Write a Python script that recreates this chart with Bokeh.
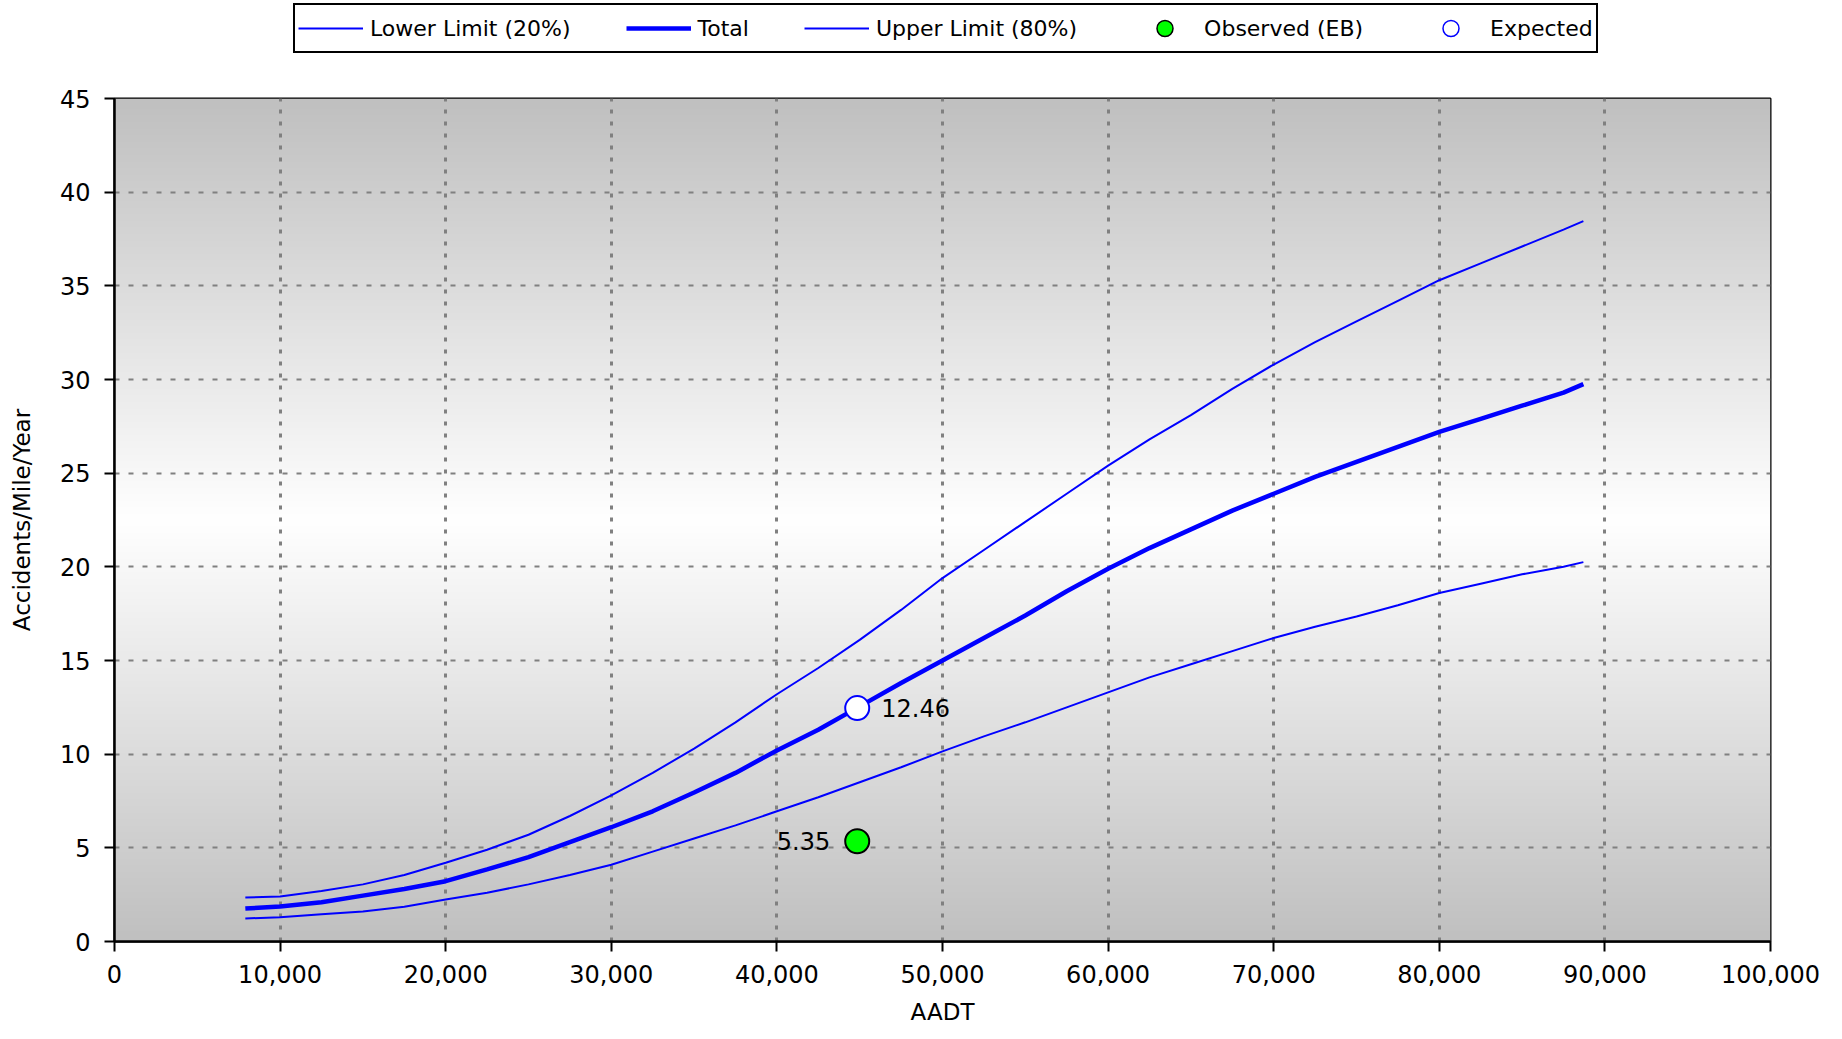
import numpy as np
from bokeh.plotting import figure
from bokeh.layouts import column
from bokeh.models import Range1d, NumeralTickFormatter, FixedTicker, Legend, LegendItem
from bokeh.core.properties import value
from bokeh.embed import file_html
from bokeh.resources import INLINE

# ---------------- data ----------------
aadt = [7900, 10000, 12500, 15000, 17500, 20000, 22500, 25000, 27500, 30000,
        32500, 35000, 37500, 40000, 42500, 45000, 47500, 50000, 52500, 55000,
        57500, 60000, 62500, 65000, 67500, 70000, 72500, 75000, 77500, 80000,
        82500, 85000, 87500, 88700]
lower = [1.23, 1.30, 1.45, 1.60, 1.85, 2.24, 2.60, 3.05, 3.55, 4.10,
         4.80, 5.50, 6.20, 6.95, 7.70, 8.50, 9.30, 10.15, 10.95, 11.70,
         12.50, 13.30, 14.10, 14.80, 15.50, 16.20, 16.80, 17.35, 17.95, 18.60,
         19.10, 19.60, 20.00, 20.25]
total = [1.76, 1.87, 2.10, 2.45, 2.80, 3.22, 3.85, 4.50, 5.30, 6.10,
         6.95, 7.95, 9.00, 10.20, 11.30, 12.55, 13.80, 15.00, 16.20, 17.40,
         18.70, 19.90, 21.00, 22.00, 23.00, 23.90, 24.80, 25.60, 26.40, 27.20,
         27.90, 28.60, 29.30, 29.75]
upper = [2.35, 2.40, 2.70, 3.05, 3.55, 4.20, 4.90, 5.70, 6.70, 7.80,
         9.00, 10.30, 11.70, 13.20, 14.60, 16.10, 17.70, 19.40, 20.90, 22.40,
         23.90, 25.40, 26.80, 28.10, 29.50, 30.80, 32.00, 33.10, 34.20, 35.30,
         36.20, 37.10, 38.00, 38.45]
point_aadt = [44850]
observed = [5.35]
expected = [12.46]
x_ticks = list(range(0, 100001, 10000))
y_ticks = list(range(0, 46, 5))
series_names = ["Lower Limit (20%)", "Total", "Upper Limit (80%)", "Observed (EB)", "Expected"]

FONT = "DejaVu Sans"
BLUE = "#0000ff"
GREEN = "#00ff00"
W = 1834
H = 1031
LEG_H = 56
FRAME_LEFT = 114


def draw_series(fig, obs_line_width):
    """Draw the five series on fig; returns their renderers."""
    r1 = fig.line(aadt, lower, line_color=BLUE, line_width=2)
    r2 = fig.line(aadt, total, line_color=BLUE, line_width=4.5)
    r3 = fig.line(aadt, upper, line_color=BLUE, line_width=2)
    r4 = fig.scatter(point_aadt, observed, size=24, fill_color=GREEN,
                     line_color="black", line_width=obs_line_width)
    r5 = fig.scatter(point_aadt, expected, size=24, fill_color="white",
                     line_color=BLUE, line_width=obs_line_width)
    return [r1, r2, r3, r4, r5]


p = figure(width=W, height=H - LEG_H, output_backend="svg", toolbar_location=None,
           x_range=Range1d(0, 100000), y_range=Range1d(0, 45),
           min_border_left=FRAME_LEFT, min_border_right=W - 1770, min_border_top=98 - LEG_H,
           min_border_bottom=90,
           background_fill_color="white", border_fill_color="white")

# vertical grey gradient background (grey - white - grey)
n = 256
t = np.linspace(0.0, 1.0, n)
shade = (192 + (255 - 192) * (1 - np.abs(2 * t - 1))).astype(np.uint8)
img = np.empty((n, 1), dtype=np.uint32)
view = img.view(dtype=np.uint8).reshape((n, 1, 4))
view[:, 0, 0] = shade
view[:, 0, 1] = shade
view[:, 0, 2] = shade
view[:, 0, 3] = 255
p.image_rgba(image=[img], x=0, y=0, dw=100000, dh=45, level="image")

# grid
p.xgrid.ticker = FixedTicker(ticks=x_ticks)
p.ygrid.ticker = FixedTicker(ticks=y_ticks)
p.xgrid.grid_line_color = "#808080"
p.xgrid.grid_line_width = 3
p.xgrid.grid_line_dash = "4 8"
p.ygrid.grid_line_color = "#808080"
p.ygrid.grid_line_width = 2
p.ygrid.grid_line_dash = "5 9"

# axes
p.xaxis.ticker = FixedTicker(ticks=x_ticks)
p.yaxis.ticker = FixedTicker(ticks=y_ticks)
p.xaxis.formatter = NumeralTickFormatter(format="0,0")
p.xaxis.axis_label = "AADT"
p.yaxis.axis_label = "Accidents/Mile/Year"
for ax in (p.xaxis, p.yaxis):
    ax.axis_line_color = "black"
    ax.axis_line_width = 2.5
    ax.major_tick_line_color = "black"
    ax.major_tick_line_width = 2
    ax.major_tick_out = 10
    ax.major_tick_in = 0
    ax.minor_tick_out = 0
    ax.minor_tick_in = 0
    ax.major_label_text_font = FONT
    ax.major_label_text_font_size = "24px"
    ax.major_label_text_color = "black"
    ax.axis_label_text_font = FONT
    ax.axis_label_text_font_size = "23px"
    ax.axis_label_text_font_style = "normal"
    ax.axis_label_text_color = "black"
p.xaxis.major_label_standoff = 13
p.xaxis.axis_label_standoff = 13
p.yaxis.major_label_standoff = 14
p.yaxis.axis_label_standoff = 22

p.outline_line_color = "black"
p.outline_line_width = 2

draw_series(p, 2)

p.text(x=point_aadt, y=expected, text=[f"{v:.2f}" for v in expected],
       x_offset=24, text_align="left", text_baseline="middle",
       text_font=value(FONT), text_font_size="24px", text_color="black")
p.text(x=point_aadt, y=observed, text=[f"{v:.2f}" for v in observed],
       x_offset=-27, text_align="right", text_baseline="middle",
       text_font=value(FONT), text_font_size="24px", text_color="black")

# ---------------- legend strip above the chart ----------------
# the same series are drawn here outside the visible range; only the legend shows
lg = figure(width=W, height=LEG_H, output_backend="svg", toolbar_location=None,
            x_range=Range1d(-2, -1), y_range=Range1d(-2, -1),
            x_axis_location=None, y_axis_location=None,
            min_border_left=0, min_border_right=0, min_border_top=0, min_border_bottom=0,
            outline_line_color=None, background_fill_color="white",
            border_fill_color="white")
lg.grid.visible = False
keys = draw_series(lg, 1.5)
keys[4].glyph.fill_color = None

# the column aligns this strip's frame with the chart frame (left edge at FRAME_LEFT)
legend = Legend(
    items=[LegendItem(label=name, renderers=[r]) for name, r in zip(series_names, keys)],
    orientation="horizontal", location=(293 - FRAME_LEFT, 3), margin=0,
    padding=3, spacing=55, glyph_width=65, glyph_height=40, label_standoff=7,
    label_text_font=FONT, label_text_font_size="22px", label_text_color="black",
    border_line_color="black", border_line_width=2, border_line_alpha=1.0,
    background_fill_color="white", background_fill_alpha=1.0)
lg.add_layout(legend, "center")

layout = column(lg, p, spacing=0)
open("out.html", "w").write(file_html(layout, INLINE))
